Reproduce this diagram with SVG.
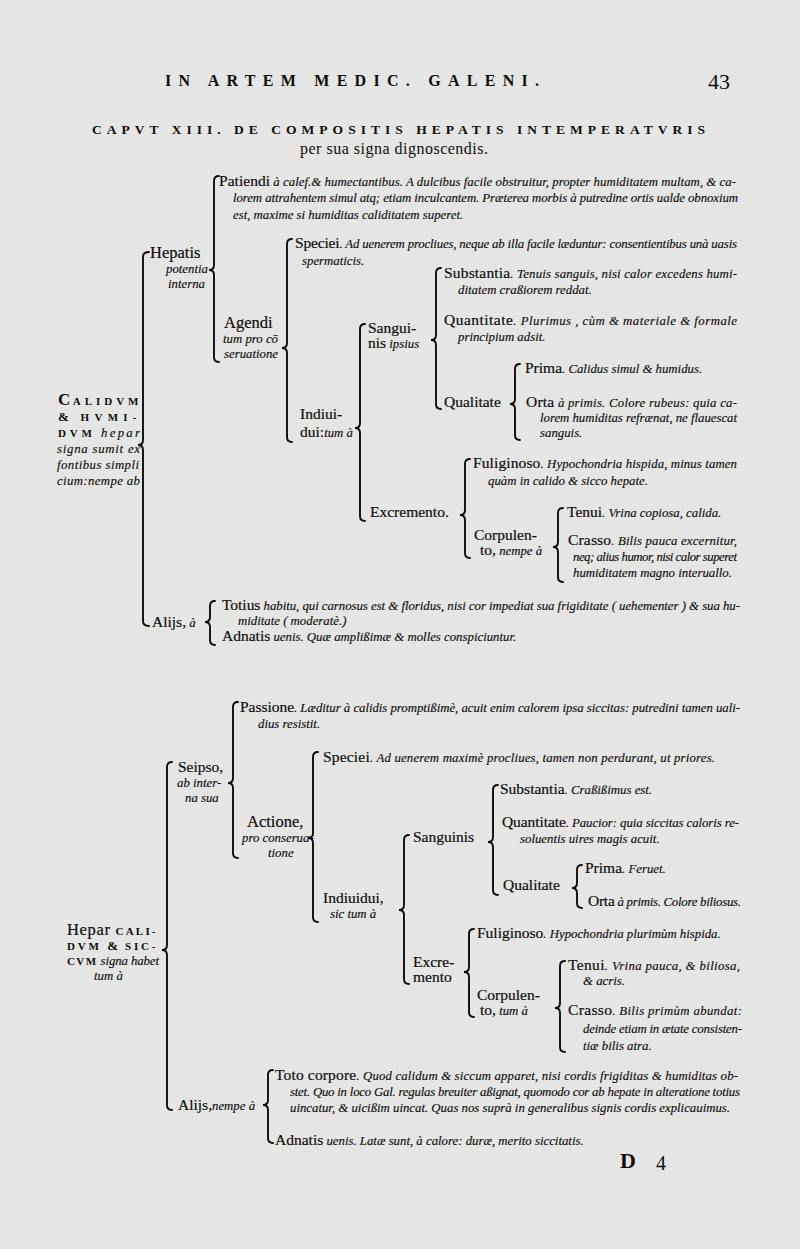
<svg xmlns="http://www.w3.org/2000/svg" width="800" height="1249" viewBox="0 0 800 1249">
<style>
text{font-family:"Liberation Serif","DejaVu Serif",serif;fill:#0e0e0e}
.r{font-size:15.5px;stroke:#0e0e0e;stroke-width:0.2}
.b{font-size:16.5px;stroke:#0e0e0e;stroke-width:0.2}
.i{font-size:12.8px;font-style:italic;stroke:#0e0e0e;stroke-width:0.15}
.sc{font-size:11px;letter-spacing:1.5px;font-weight:bold}
.hd{font-size:16px;letter-spacing:6px;font-weight:bold}
.br{fill:none;stroke:#0e0e0e;stroke-width:1.9;stroke-linecap:round}
</style>
<rect width="800" height="1249" fill="#e5e5e3"/>
<g id="header">
<text x="165" y="86" class="hd" textLength="380" lengthAdjust="spacing">IN ARTEM MEDIC. GALENI.</text>
<text x="708" y="89" style="font-size:22px">43</text>
<text x="92" y="134" style="font-size:13.5px;font-weight:bold" textLength="613" lengthAdjust="spacing">CAPVT XIII. DE COMPOSITIS HEPATIS INTEMPERATVRIS</text>
<text x="300" y="154" style="font-size:16px" textLength="188" lengthAdjust="spacing">per sua signa dignoscendis.</text>
</g>
<g id="connectors">
<path class="br" d="M149 252 Q143 252 143 257 L143 440 Q143 445 138 445 Q143 445 143 450 L143 621 Q143 626 149 626"/>
<path class="br" d="M219 176 Q214 176 214 181 L214 265 Q214 270 209 270 Q214 270 214 275 L214 357 Q214 362 219 362"/>
<path class="br" d="M292 239 Q287 239 287 244 L287 343 Q287 348 282 348 Q287 348 287 353 L287 437 Q287 442 292 442"/>
<path class="br" d="M365 324 Q360 324 360 329 L360 423 Q360 428 355 428 Q360 428 360 433 L360 516 Q360 521 365 521"/>
<path class="br" d="M441 268 Q436 268 436 273 L436 335 Q436 340 431 340 Q436 340 436 345 L436 404 Q436 409 441 409"/>
<path class="br" d="M520 364 Q515 364 515 369 L515 399 Q515 404 510 404 Q515 404 515 409 L515 435 Q515 440 520 440"/>
<path class="br" d="M470 459 Q465 459 465 464 L465 510 Q465 515 460 515 Q465 515 465 520 L465 553 Q465 558 470 558"/>
<path class="br" d="M563 508 Q558 508 558 513 L558 542 Q558 547 553 547 Q558 547 558 552 L558 577 Q558 582 563 582"/>
<path class="br" d="M215 601 Q210 601 210 606 L210 617 Q210 622 205 622 Q210 622 210 627 L210 640 Q210 645 215 645"/>
<path class="br" d="M172 762 Q167 762 167 767 L167 945 Q167 950 162 950 Q167 950 167 955 L167 1105 Q167 1110 172 1110"/>
<path class="br" d="M238 702 Q233 702 233 707 L233 778 Q233 783 228 783 Q233 783 233 788 L233 853 Q233 858 238 858"/>
<path class="br" d="M318 752 Q313 752 313 757 L313 833 Q313 838 308 838 Q313 838 313 843 L313 917 Q313 922 318 922"/>
<path class="br" d="M409 835 Q404 835 404 840 L404 905 Q404 910 399 910 Q404 910 404 915 L404 979 Q404 984 409 984"/>
<path class="br" d="M498 785 Q493 785 493 790 L493 837 Q493 842 488 842 Q493 842 493 847 L493 890 Q493 895 498 895"/>
<path class="br" d="M582 865 Q577 865 577 870 L577 883 Q577 888 572 888 Q577 888 577 893 L577 903 Q577 908 582 908"/>
<path class="br" d="M474 929 Q469 929 469 934 L469 967 Q469 972 464 972 Q469 972 469 977 L469 1012 Q469 1017 474 1017"/>
<path class="br" d="M565 961 Q560 961 560 966 L560 1003 Q560 1008 555 1008 Q560 1008 560 1013 L560 1047 Q560 1052 565 1052"/>
<path class="br" d="M273 1070 Q268 1070 268 1075 L268 1100 Q268 1105 263 1105 Q268 1105 268 1110 L268 1138 Q268 1143 273 1143"/>
</g>
<g id="t1-root">
<text x="58" y="405" textLength="82" lengthAdjust="spacing"><tspan style="font-size:17px;font-weight:bold">C</tspan><tspan class="sc">ALIDVM</tspan></text>
<text x="58" y="421" textLength="80" lengthAdjust="spacing"><tspan style="font-size:13px;font-weight:bold">&amp;</tspan><tspan class="sc"> HVMI-</tspan></text>
<text x="58" y="437" textLength="82" lengthAdjust="spacing"><tspan class="sc">DVM</tspan><tspan class="i"> hepar</tspan></text>
<text x="57" y="453" class="i" textLength="83" lengthAdjust="spacing">signa sumit ex</text>
<text x="57" y="469" class="i" textLength="82" lengthAdjust="spacing">fontibus simpli</text>
<text x="57" y="485" class="i" textLength="83" lengthAdjust="spacing">cium:nempe ab</text>
</g>
<g id="t1-hepatis">
<text x="150" y="258" class="b">Hepatis</text>
<text x="166" y="273" class="i">potentia</text>
<text x="168" y="288" class="i">interna</text>
</g>
<g id="t1-patiendi">
<text x="219" y="186" textLength="517" lengthAdjust="spacing"><tspan class="r">Patiendi</tspan><tspan class="i"> à calef.&amp; humectantibus. A dulcibus facile obstruitur, propter humiditatem multam, &amp; ca-</tspan></text>
<text x="233" y="202" class="i" textLength="505" lengthAdjust="spacing">lorem attrahentem simul atq; etiam inculcantem. Præterea morbis à putredine ortis ualde obnoxium</text>
<text x="233" y="219" class="i">est, maxime si humiditas caliditatem superet.</text>
</g>
<g id="t1-agendi">
<text x="224" y="328" class="b">Agendi</text>
<text x="223" y="343" class="i">tum pro cō</text>
<text x="224" y="358" class="i">seruatione</text>
</g>
<g id="t1-speciei">
<text x="295" y="248" textLength="442" lengthAdjust="spacing"><tspan class="r">Speciei</tspan><tspan class="i">. Ad uenerem procliues, neque ab illa facile læduntur: consentientibus unà uasis</tspan></text>
<text x="302" y="265" class="i">spermaticis.</text>
</g>
<g id="t1-indiuidui">
<text x="300" y="419" class="r">Indiui-</text>
<text x="300" y="437"><tspan class="r">dui:</tspan><tspan class="i">tum à</tspan></text>
</g>
<g id="t1-sanguinis">
<text x="368" y="333" class="r">Sangui-</text>
<text x="368" y="348"><tspan class="r">nis</tspan><tspan class="i"> ipsius</tspan></text>
</g>
<g id="t1-substantia">
<text x="444" y="278" textLength="293" lengthAdjust="spacing"><tspan class="r">Substantia</tspan><tspan class="i">. Tenuis sanguis, nisi calor excedens humi-</tspan></text>
<text x="458" y="294" class="i">ditatem craßiorem reddat.</text>
</g>
<g id="t1-quantitate">
<text x="444" y="325" textLength="293" lengthAdjust="spacing"><tspan class="r">Quantitate</tspan><tspan class="i">. Plurimus , cùm &amp; materiale &amp; formale</tspan></text>
<text x="458" y="341" class="i">principium adsit.</text>
</g>
<g id="t1-qualitate"><text x="444" y="407" class="r">Qualitate</text></g>
<g id="t1-prima"><text x="525" y="373"><tspan class="r">Prima</tspan><tspan class="i">. Calidus simul &amp; humidus.</tspan></text></g>
<g id="t1-orta">
<text x="526" y="407" textLength="211" lengthAdjust="spacing"><tspan class="r">Orta</tspan><tspan class="i"> à primis. Colore rubeus: quia ca-</tspan></text>
<text x="540" y="422" class="i" textLength="197" lengthAdjust="spacing">lorem humiditas refrænat, ne flauescat</text>
<text x="540" y="437" class="i">sanguis.</text>
</g>
<g id="t1-excremento"><text x="370" y="517" class="r">Excremento.</text></g>
<g id="t1-fuliginoso">
<text x="473" y="468" textLength="264" lengthAdjust="spacing"><tspan class="r">Fuliginoso</tspan><tspan class="i">. Hypochondria hispida, minus tamen</tspan></text>
<text x="488" y="485" class="i">quàm in calido &amp; sicco hepate.</text>
</g>
<g id="t1-corpulento">
<text x="474" y="540" class="r">Corpulen-</text>
<text x="480" y="555"><tspan class="r">to,</tspan><tspan class="i"> nempe à</tspan></text>
</g>
<g id="t1-tenui"><text x="567" y="517"><tspan class="r">Tenui</tspan><tspan class="i">. Vrina copiosa, calida.</tspan></text></g>
<g id="t1-crasso">
<text x="568" y="545" textLength="169" lengthAdjust="spacing"><tspan class="r">Crasso</tspan><tspan class="i">. Bilis pauca excernitur,</tspan></text>
<text x="573" y="561" class="i" textLength="164" lengthAdjust="spacing">neq; alius humor, nisi calor superet</text>
<text x="573" y="577" class="i">humiditatem magno interuallo.</text>
</g>
<g id="t1-alijs"><text x="152" y="627"><tspan class="r">Alijs,</tspan><tspan class="i"> à</tspan></text></g>
<g id="t1-totius">
<text x="222" y="610" textLength="518" lengthAdjust="spacing"><tspan class="r">Totius</tspan><tspan class="i"> habitu, qui carnosus est &amp; floridus, nisi cor impediat sua frigiditate ( uehementer ) &amp; sua hu-</tspan></text>
<text x="238" y="625" class="i">miditate ( moderatè.)</text>
</g>
<g id="t1-adnatis"><text x="222" y="641"><tspan class="r">Adnatis</tspan><tspan class="i"> uenis. Quæ amplißimæ &amp; molles conspiciuntur.</tspan></text></g>

<g id="t2-root">
<text x="67" y="935" textLength="90" lengthAdjust="spacing"><tspan class="b">Hepar</tspan><tspan class="sc"> CALI-</tspan></text>
<text x="67" y="950" textLength="90" lengthAdjust="spacing"><tspan class="sc">DVM </tspan><tspan style="font-size:13px;font-weight:bold">&amp;</tspan><tspan class="sc"> SIC-</tspan></text>
<text x="67" y="965" textLength="92" lengthAdjust="spacing"><tspan class="sc">CVM</tspan><tspan class="i"> signa habet</tspan></text>
<text x="94" y="980" class="i">tum à</text>
</g>
<g id="t2-seipso">
<text x="178" y="772" class="r">Seipso,</text>
<text x="177" y="787" class="i">ab inter-</text>
<text x="185" y="802" class="i">na sua</text>
</g>
<g id="t2-passione">
<text x="240" y="712" textLength="500" lengthAdjust="spacing"><tspan class="r">Passione</tspan><tspan class="i">. Læditur à calidis promptißimè, acuit enim calorem ipsa siccitas: putredini tamen uali-</tspan></text>
<text x="258" y="728" class="i">dius resistit.</text>
</g>
<g id="t2-actione">
<text x="247" y="827" class="b">Actione,</text>
<text x="242" y="842" class="i">pro conserua-</text>
<text x="268" y="857" class="i">tione</text>
</g>
<g id="t2-speciei"><text x="323" y="762" textLength="392" lengthAdjust="spacing"><tspan class="r">Speciei</tspan><tspan class="i">. Ad uenerem maximè procliues, tamen non perdurant, ut priores.</tspan></text></g>
<g id="t2-indiuidui">
<text x="323" y="903" class="r">Indiuidui,</text>
<text x="330" y="918" class="i">sic tum à</text>
</g>
<g id="t2-sanguinis"><text x="413" y="842" class="r">Sanguinis</text></g>
<g id="t2-substantia"><text x="500" y="794"><tspan class="r">Substantia</tspan><tspan class="i">. Craßißimus est.</tspan></text></g>
<g id="t2-quantitate">
<text x="502" y="827" textLength="237" lengthAdjust="spacing"><tspan class="r">Quantitate</tspan><tspan class="i">. Paucior: quia siccitas caloris re-</tspan></text>
<text x="520" y="843" class="i">soluentis uires magis acuit.</text>
</g>
<g id="t2-qualitate"><text x="503" y="890" class="r">Qualitate</text></g>
<g id="t2-prima"><text x="585" y="873"><tspan class="r">Prima</tspan><tspan class="i">. Feruet.</tspan></text></g>
<g id="t2-orta"><text x="588" y="906" textLength="153" lengthAdjust="spacing"><tspan class="r">Orta</tspan><tspan class="i"> à primis. Colore biliosus.</tspan></text></g>
<g id="t2-excremento">
<text x="413" y="967" class="r">Excre-</text>
<text x="413" y="982" class="r">mento</text>
</g>
<g id="t2-fuliginoso"><text x="477" y="938"><tspan class="r">Fuliginoso</tspan><tspan class="i">. Hypochondria plurimùm hispida.</tspan></text></g>
<g id="t2-corpulento">
<text x="477" y="1000" class="r">Corpulen-</text>
<text x="480" y="1015"><tspan class="r">to,</tspan><tspan class="i"> tum à</tspan></text>
</g>
<g id="t2-tenui">
<text x="568" y="970" textLength="172" lengthAdjust="spacing"><tspan class="r">Tenui</tspan><tspan class="i">. Vrina pauca, &amp; biliosa,</tspan></text>
<text x="583" y="985" class="i">&amp; acris.</text>
</g>
<g id="t2-crasso">
<text x="568" y="1015" textLength="174" lengthAdjust="spacing"><tspan class="r">Crasso</tspan><tspan class="i">. Bilis primùm abundat:</tspan></text>
<text x="583" y="1033" class="i" textLength="159" lengthAdjust="spacing">deinde etiam in ætate consisten-</text>
<text x="583" y="1050" class="i">tiæ bilis atra.</text>
</g>
<g id="t2-alijs"><text x="178" y="1110"><tspan class="r">Alijs,</tspan><tspan class="i">nempe à</tspan></text></g>
<g id="t2-toto">
<text x="275" y="1080" textLength="463" lengthAdjust="spacing"><tspan class="r">Toto corpore</tspan><tspan class="i">. Quod calidum &amp; siccum apparet, nisi cordis frigiditas &amp; humiditas ob-</tspan></text>
<text x="290" y="1096" class="i" textLength="450" lengthAdjust="spacing">stet. Quo in loco Gal. regulas breuiter aßignat, quomodo cor ab hepate in alteratione totius</text>
<text x="290" y="1112" class="i" textLength="440" lengthAdjust="spacing">uincatur, &amp; uicißim uincat. Quas nos suprà in generalibus signis cordis explicauimus.</text>
</g>
<g id="t2-adnatis"><text x="275" y="1145"><tspan class="r">Adnatis</tspan><tspan class="i"> uenis. Latæ sunt, à calore: duræ, merito siccitatis.</tspan></text></g>
<g id="footer">
<text x="620" y="1168" style="font-size:22px;font-weight:bold">D</text>
<text x="656" y="1170" style="font-size:20px">4</text>
</g>
</svg>
